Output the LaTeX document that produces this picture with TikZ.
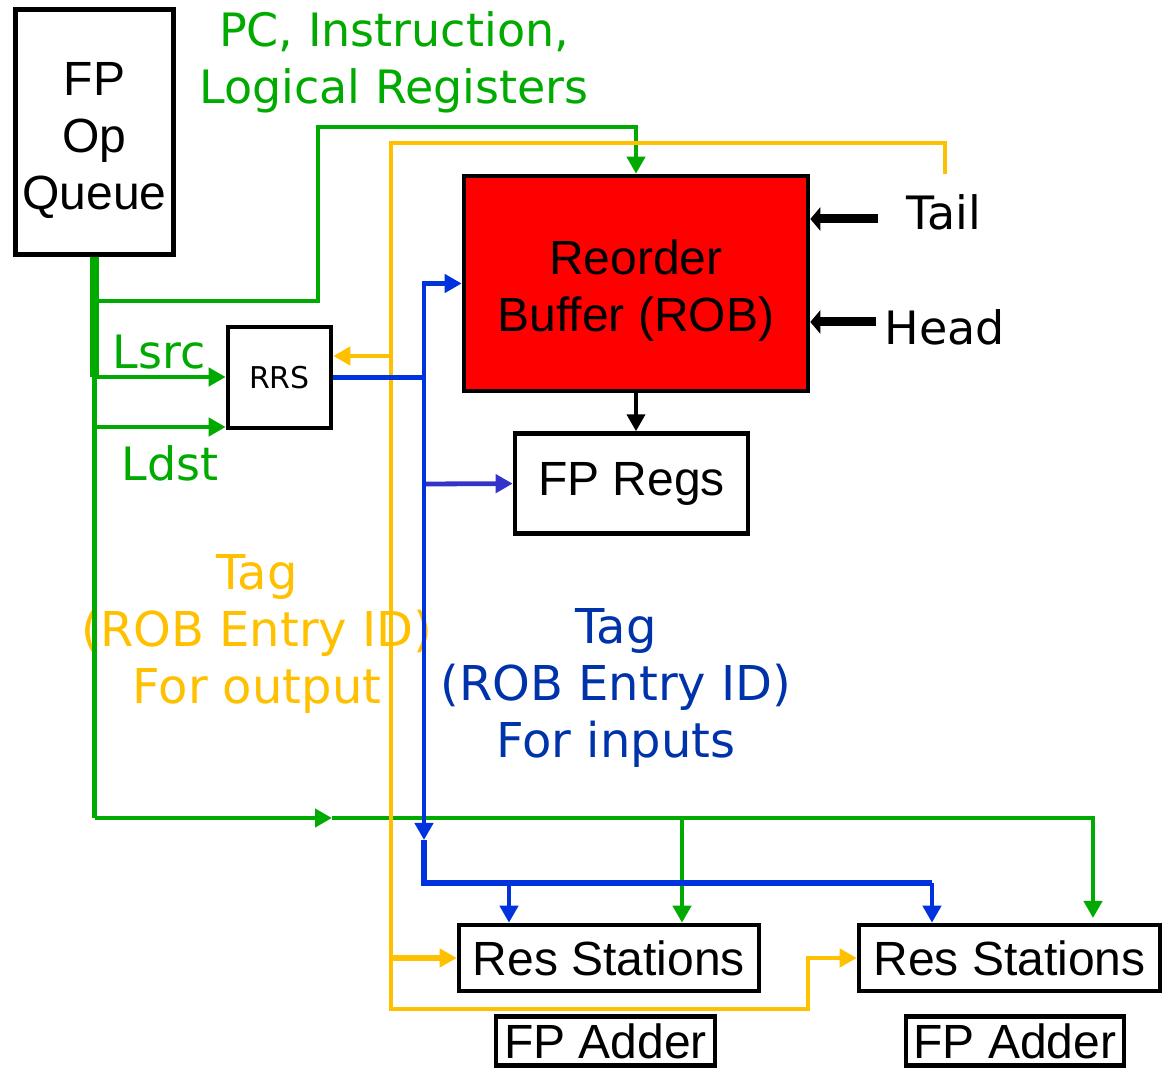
\documentclass[tikz,border=0pt]{standalone}
\usepackage{fontspec}
\setmainfont{Liberation Sans}
\newfontfamily\comicfont{DejaVu Sans}
\usepackage{tikz}
\usetikzlibrary{arrows.meta,positioning}
\definecolor{wiregreen}{HTML}{00AA00}
\definecolor{tagyellow}{HTML}{FFC000}
\definecolor{tagblue}{HTML}{0033DD}
\definecolor{textblue}{HTML}{0033AA}
\definecolor{regblue}{HTML}{3333CC}
\definecolor{robred}{HTML}{FF0000}
\tikzset{
  >={Triangle[length=8.5pt,width=9pt]},
  box/.style={draw=black,line width=2.3pt,align=center,inner sep=0pt,
              font=\fontsize{24}{28.5}\selectfont},
  robbox/.style={box,fill=robred},
  lbl/.style={align=center,inner sep=0pt,font=\comicfont\fontsize{23}{28.5}\selectfont},
  gwire/.style={draw=wiregreen,line width=2.2pt},
  gflow/.style={gwire,->},
  ywire/.style={draw=tagyellow,line width=2.2pt},
  yflow/.style={ywire,->},
  bwire/.style={draw=tagblue,line width=2.4pt},
  bflow/.style={bwire,->},
  pointer/.style={draw=black,line width=4.5pt,-{Triangle[length=5pt,width=11.5pt]}}
}
\begin{document}
\begin{tikzpicture}[x=0.5pt,y=-0.5pt]
  \useasboundingbox (0,0) rectangle (1169,1080);
  \node[box,minimum width=79pt,minimum height=122.5pt,text height=79pt,text depth=1.5pt] (queue) at (94.5,132) {FP\\Op\\Queue};
  \node[robbox,minimum width=172pt,minimum height=107.5pt,text height=53pt,text depth=5pt] (rob) at (636,283.5) {Reorder\\Buffer (ROB)};
  \node[box,minimum width=116.5pt,minimum height=50pt,below=19pt of rob,xshift=-2.25pt] (regs) {FP Regs};
  \node[box,minimum width=51.5pt,minimum height=50.5pt,font=\comicfont\fontsize{15}{18}\selectfont] (rrs) at (279.5,377.5) {RRS};
  \node[box,minimum width=150pt,minimum height=33pt] (rs1) at (609,958) {Res Stations};
  \node[box,minimum width=150.5pt,minimum height=33pt] (rs2) at (1009.5,958) {Res Stations};
  \node[box,minimum width=109.5pt,minimum height=24.5pt,below=10.5pt of rs1,xshift=-1.75pt] (add1) {FP Adder};
  \node[box,minimum width=109pt,minimum height=24.5pt,below=10.5pt of rs2,xshift=2.75pt] (add2) {FP Adder};
  \node[lbl,text=wiregreen] (pclbl) at (394,62) {PC, Instruction,\\Logical Registers};
  \node[lbl,text=wiregreen] (lsrc) at (159,352) {Lsrc};
  \node[lbl,text=wiregreen] (ldst) at (170,463) {Ldst};
  \node[lbl,text=tagyellow,font=\comicfont\fontsize{24}{28.5}\selectfont] (tagout) at (257,634) {Tag\\(ROB Entry ID)\\For output};
  \node[lbl,text=textblue,font=\comicfont\fontsize{24}{28.5}\selectfont] (tagin) at (616,688) {Tag\\(ROB Entry ID)\\For inputs};
  \node[lbl] (tail) at (944,212) {Tail};
  \node[lbl] (head) at (945,327) {Head};
  \coordinate (qsplit) at (94.5,377);
  \coordinate (gpc) at (94.5,301);
  \coordinate (pcturn) at (318,127);
  \coordinate (gldst) at (94.5,427);
  \coordinate (gcorner) at (94.5,818);
  \coordinate (gmid) at (332,818);
  \coordinate (gfar) at (1093,918);
  \coordinate (gbranch) at (682,818);
  \draw[gwire] (queue.south) -- (gcorner);
  \draw[gwire,line width=4.5pt] (queue.south) -- (qsplit);
  \draw[gflow] (gpc) -| (pcturn) -| (rob.north);
  \draw[gflow] (qsplit) -- (rrs.west |- qsplit);
  \draw[gflow] (gldst) -- (rrs.west |- gldst);
  \draw[gflow] (gcorner) -- (gmid);
  \draw[gflow] (gmid) -| (gfar);
  \draw[gflow] (gbranch) -- (gbranch |- rs1.north);
  \coordinate (ytail) at (945,174);
  \coordinate (ytop) at (391,143);
  \coordinate (ybot) at (391,1009);
  \coordinate (ystep) at (808,958);
  \coordinate (yrrs) at (391,356);
  \coordinate (yrs) at (391,958);
  \draw[yflow] (ytail) |- (ytop) -- (ybot) -| (ystep) -- (rs2.west);
  \draw[yflow] (yrrs) -- (rrs.east |- yrrs);
  \draw[yflow,line width=3pt] (yrs) -- (rs1.west);
  \coordinate (bjoin) at (424,377.5);
  \coordinate (bregs) at (424,484);
  \coordinate (bdown) at (424,840);
  \coordinate (bleft) at (509,883);
  \coordinate (bright) at (932,883);
  \draw[bwire] (rrs.east) -- (bjoin);
  \draw[bflow] (bjoin) |- (rob.west);
  \draw[bflow,draw=regblue] (bregs) -- (regs.west);
  \draw[bflow] (bjoin) -- (bdown);
  \draw[bwire,line width=2.8pt] (bdown) |- (bright);
  \draw[bflow] (bright) -- (bright |- rs2.north);
  \draw[bflow] (bleft) -- (bleft |- rs1.north);
  \draw[->,line width=2pt] (rob.south) -- (rob.south |- regs.north);
  \coordinate (tailp) at (878,219);
  \coordinate (headp) at (876,322);
  \draw[pointer] (tailp) -- (tailp -| rob.east);
  \draw[pointer] (headp) -- (headp -| rob.east);
\end{tikzpicture}
\end{document}
